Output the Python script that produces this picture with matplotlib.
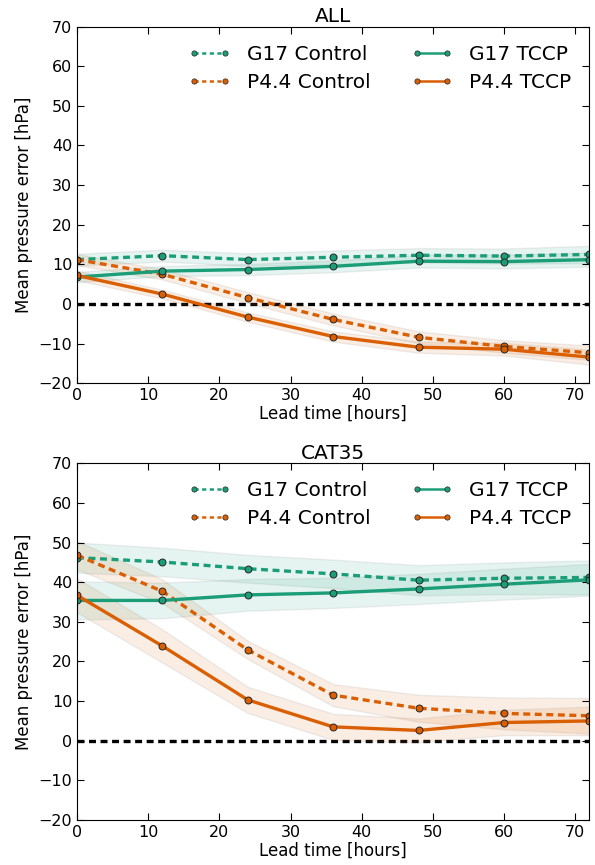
import numpy as np
import matplotlib
matplotlib.use("Agg")
import matplotlib.pyplot as plt
from matplotlib.lines import Line2D

lead_hours = [0, 12, 24, 36, 48, 60, 72]

# ALL
all_g17_control = [11.2, 12.2, 11.2, 11.8, 12.3, 12.1, 12.5]
all_g17_tccp = [6.8, 8.3, 8.7, 9.5, 10.8, 10.7, 11.2]
all_p44_control = [11.2, 7.5, 1.6, -3.9, -8.4, -10.7, -12.3]
all_p44_tccp = [7.2, 2.5, -3.3, -8.2, -10.9, -11.4, -13.4]
all_g17_control_err = [1.5, 1.5, 1.6, 1.7, 1.8, 1.9, 2.2]
all_g17_tccp_err = [1.3, 1.3, 1.4, 1.5, 1.6, 1.7, 1.8]
all_p44_control_err = [1.4, 1.3, 1.4, 1.5, 1.5, 1.6, 1.8]
all_p44_tccp_err = [1.2, 1.1, 1.2, 1.3, 1.4, 1.6, 1.9]

# CAT35
cat_g17_control = [46.2, 45.1, 43.4, 42.1, 40.5, 41.0, 41.2]
cat_g17_tccp = [35.4, 35.4, 36.8, 37.3, 38.3, 39.5, 40.6]
cat_p44_control = [46.8, 37.7, 22.9, 11.5, 8.2, 6.9, 6.3]
cat_p44_tccp = [36.7, 23.9, 10.3, 3.5, 2.6, 4.6, 5.0]
cat_g17_control_err = [3.8, 3.6, 3.5, 3.6, 3.8, 4.0, 4.3]
cat_g17_tccp_err = [4.8, 4.5, 4.0, 3.8, 3.8, 3.9, 4.0]
cat_p44_control_err = [3.6, 3.0, 2.3, 2.8, 3.4, 4.0, 4.5]
cat_p44_tccp_err = [4.3, 4.2, 3.3, 3.3, 3.0, 3.2, 3.6]

legend_labels = ["G17 Control", "P4.4 Control", "G17 TCCP", "P4.4 TCCP"]

green = "#1b9e77"
orange = "#d95f02"

plt.rcParams["font.family"] = "DejaVu Sans"
plt.rcParams["xtick.direction"] = "in"
plt.rcParams["ytick.direction"] = "in"
plt.rcParams["xtick.top"] = True
plt.rcParams["ytick.right"] = True
plt.rcParams["lines.scale_dashes"] = False

fig = plt.figure(figsize=(5.95, 8.65), dpi=100)
ax_top = fig.add_axes([0.1294, 0.5569, 0.8613, 0.4124])
ax_bot = fig.add_axes([0.1294, 0.0520, 0.8613, 0.4124])

x = np.array(lead_hours)
dash = (5, 3.3)


def draw_series(ax, y, err, color, ls):
    y = np.array(y)
    err = np.array(err)
    ax.fill_between(x, y - err, y + err, facecolor=color, edgecolor="0.45",
                    alpha=0.11, lw=1)
    line, = ax.plot(x, y, color=color, lw=2.4, marker="o", markersize=5,
                    markerfacecolor=color, markeredgecolor="0.15",
                    markeredgewidth=0.7)
    if ls == "--":
        line.set_dashes(dash)


panels = [
    (ax_top, "ALL",
     [(all_g17_control, all_g17_control_err, green, "--"),
      (all_p44_control, all_p44_control_err, orange, "--"),
      (all_g17_tccp, all_g17_tccp_err, green, "-"),
      (all_p44_tccp, all_p44_tccp_err, orange, "-")]),
    (ax_bot, "CAT35",
     [(cat_g17_control, cat_g17_control_err, green, "--"),
      (cat_p44_control, cat_p44_control_err, orange, "--"),
      (cat_g17_tccp, cat_g17_tccp_err, green, "-"),
      (cat_p44_tccp, cat_p44_tccp_err, orange, "-")]),
]

for ax, title, series in panels:
    ax.axhline(0, color="black", lw=2.4, dashes=dash, zorder=1)
    handles = []
    for (y, err, color, ls), label in zip(series, legend_labels):
        draw_series(ax, y, err, color, ls)
        h = Line2D([], [], color=color, lw=1.8, marker="o", markersize=3.8,
                   markerfacecolor=color, markeredgecolor="0.15",
                   markeredgewidth=0.5, label=label)
        if ls == "--":
            h.set_dashes((3, 2.5))
        handles.append(h)
    ax.set_xlim(0, 72)
    ax.set_ylim(-20, 70)
    ax.set_xticks(np.arange(0, 71, 10))
    ax.set_yticks(np.arange(-20, 71, 10))
    ax.tick_params(labelsize=11.5, length=5, width=0.8, pad=3.5)
    ax.set_title(title, fontsize=14.5, pad=3)
    ax.set_xlabel("Lead time [hours]", fontsize=12, labelpad=1)
    ax.set_ylabel("Mean pressure error [hPa]", fontsize=12, labelpad=4)
    ax.legend(handles=handles, loc="upper right", ncol=2, frameon=False,
              numpoints=2, fontsize=14.5, handlelength=2.1, columnspacing=2.0,
              handletextpad=0.8, labelspacing=0.45, borderaxespad=0.5)

fig.savefig("out.png", dpi=100)
